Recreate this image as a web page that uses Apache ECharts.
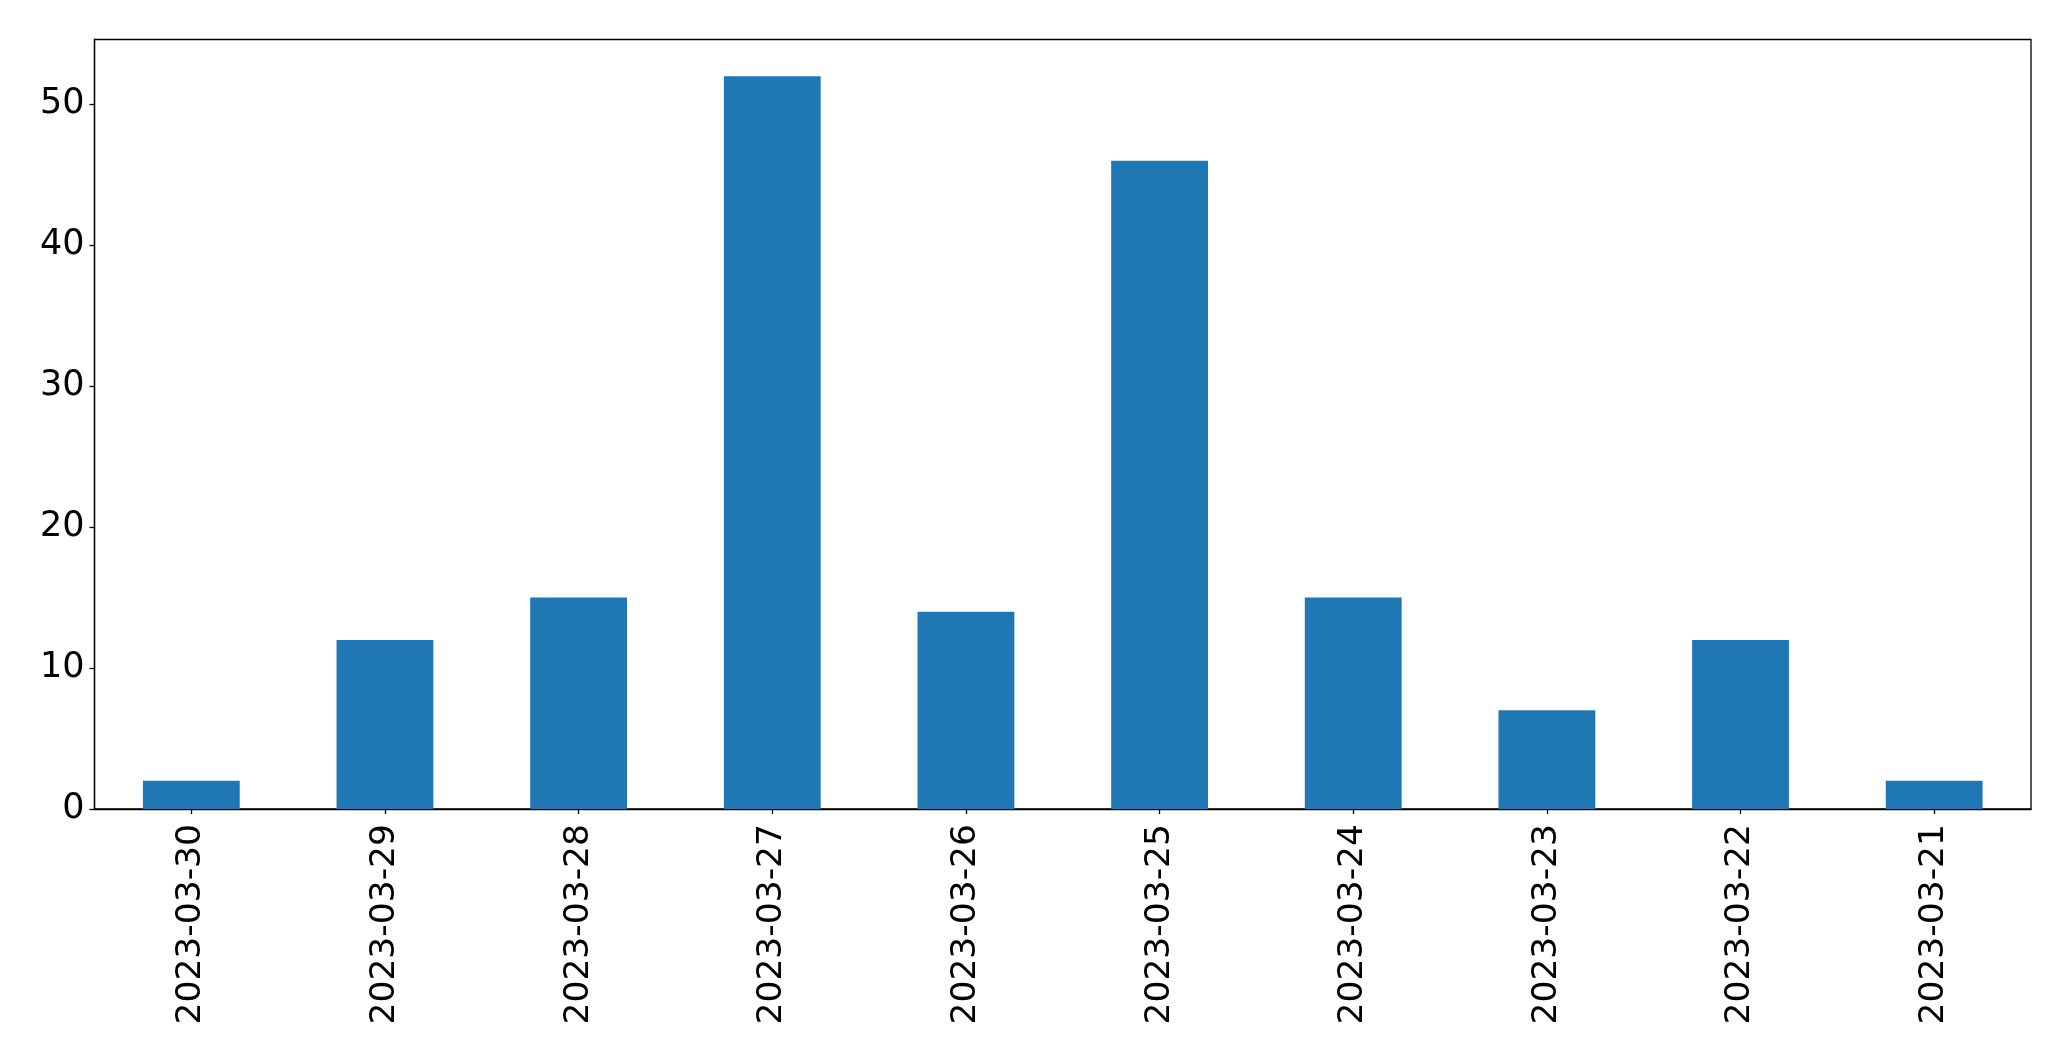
<!DOCTYPE html>
<html>
<head>
<meta charset="utf-8">
<script src="https://cdn.jsdelivr.net/npm/echarts@6/dist/echarts.min.js"></script>
<style>html,body{margin:0;padding:0;background:#fff;}#c{width:2071px;height:1061px;}</style>
</head>
<body>
<div id="c"></div>
<script>
const categories = ['2023-03-30','2023-03-29','2023-03-28','2023-03-27','2023-03-26','2023-03-25','2023-03-24','2023-03-23','2023-03-22','2023-03-21'];
const values = [2, 12, 15, 52, 14, 46, 15, 7, 12, 2];
const yTicks = [0, 10, 20, 30, 40, 50];

const chart = echarts.init(document.getElementById('c'), null, {renderer: 'canvas'});
const font = 'DejaVu Sans';
chart.setOption({
  animation: false,
  backgroundColor: '#ffffff',
  grid: {
    left: 94.5, right: 40, top: 39.5, bottom: 252,
    show: true, borderColor: '#000', borderWidth: 1.3, backgroundColor: 'transparent'
  },
  xAxis: {
    type: 'category',
    data: categories,
    boundaryGap: true,
    axisLine: {show: true, lineStyle: {color: '#000', width: 1.3}},
    axisTick: {show: true, alignWithLabel: true, length: 5, lineStyle: {color: '#000', width: 1.3}},
    axisLabel: {rotate: 90, margin: 15, color: '#000', fontSize: 34.5, fontFamily: font, interval: 0},
    splitLine: {show: false}
  },
  yAxis: {
    type: 'value',
    min: 0, max: 54.6, interval: 10,
    axisLine: {show: true, lineStyle: {color: '#000', width: 1.3}},
    axisTick: {show: true, length: 5, lineStyle: {color: '#000', width: 1.3}},
    axisLabel: {
      margin: 10, color: '#000', fontSize: 35, fontFamily: font,
      showMaxLabel: false,
      formatter: v => yTicks.includes(v) ? String(v) : ''
    },
    splitLine: {show: false}
  },
  series: [{
    type: 'bar',
    data: values,
    barWidth: '50%',
    itemStyle: {color: '#1f77b4'}
  }]
});
</script>
</body>
</html>
